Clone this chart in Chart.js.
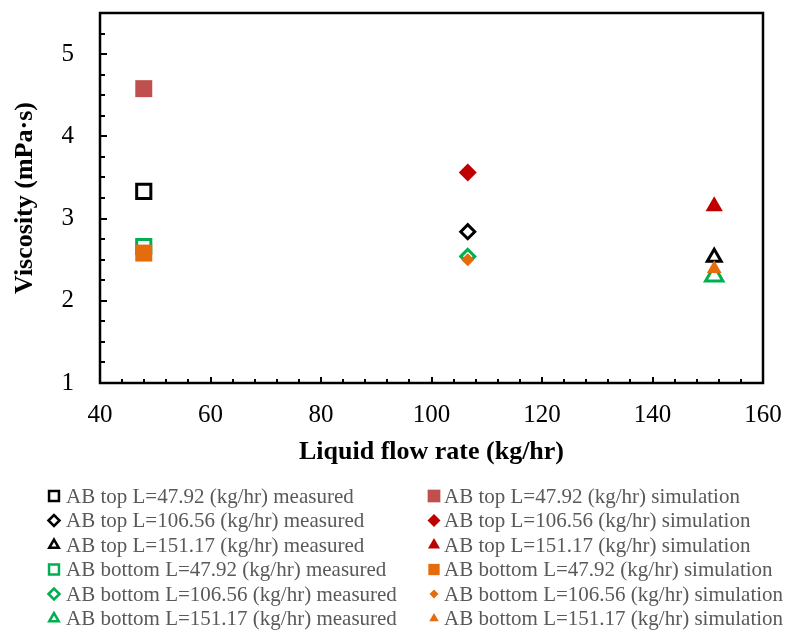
<!DOCTYPE html>
<html>
<head>
<meta charset="utf-8">
<script src="https://cdn.jsdelivr.net/npm/chart.js@4"></script>
<style>
  body { margin: 0; background: #fff; }
  #wrap { width: 786px; height: 630px; position: relative; }
</style>
</head>
<body>
<div id="wrap"><canvas id="viscChart"></canvas></div>
<script>
// flow rates (kg/hr) and viscosity readings (mPa·s)
const flowRates = [47.92, 106.56, 151.17];
const topMeasured = [3.33, 2.84, 2.53];
const topSimulation = [4.58, 3.56, 3.15];
const bottomMeasured = [2.66, 2.54, 2.30];
const bottomSimulation = [2.58, 2.50, 2.39];
const xTicks = [40, 60, 80, 100, 120, 140, 160];
const yTicks = [1, 2, 3, 4, 5];

const labelsFor = (pos, kind) => flowRates.map(f => 'AB ' + pos + ' L=' + f + ' (kg/hr) ' + kind);
const shapes = ['rect', 'rectRot', 'triangle'];

function series(labels, values, style) {
    return values.map((v, i) => ({
        label: labels[i],
        data: [{ x: flowRates[i], y: v }],
        pointStyle: shapes[i],
        pointRadius: style.radius[i],
        legendRadius: style.legendRadius[i],
        pointBorderWidth: style.hollow ? 3 : 0,
        borderWidth: style.hollow ? 3 : 0,
        borderColor: style.color[i],
        backgroundColor: style.hollow ? 'rgba(0,0,0,0)' : style.color[i],
        hollow: style.hollow,
        showLine: false,
        order: style.order
    }));
}

const datasets = [
    ...series(labelsFor('top', 'measured'), topMeasured,
        { color: ['#000', '#000', '#000'], radius: [10, 7, 8], legendRadius: [7, 5.5, 5.5], hollow: true, order: 4 }),
    ...series(labelsFor('bottom', 'measured'), bottomMeasured,
        { color: ['#00B050', '#00B050', '#00B050'], radius: [10, 7, 10], legendRadius: [7, 5.5, 5.5], hollow: true, order: 3 }),
    ...series(labelsFor('top', 'simulation'), topSimulation,
        { color: ['#C0504D', '#C00000', '#C00000'], radius: [12, 9, 10], legendRadius: [9, 6.5, 7], hollow: false, order: 2 }),
    ...series(labelsFor('bottom', 'simulation'), bottomSimulation,
        { color: ['#E46C0A', '#E46C0A', '#E46C0A'], radius: [12, 6.5, 8.5], legendRadius: [8, 4.5, 5.5], hollow: false, order: 1 })
];

// legend column order: measured top, measured bottom | simulation top, simulation bottom
const legendOrder = [0, 1, 2, 3, 4, 5, 6, 7, 8, 9, 10, 11];

const frame = {
    id: 'frame',
    afterDraw(chart) {
        const { ctx, chartArea: a, scales } = chart;
        ctx.save();
        ctx.strokeStyle = '#000';
        ctx.lineWidth = 2;
        ctx.beginPath();
        for (let v = 40; v <= 160; v += 4) {
            const px = Math.round(scales.x.getPixelForValue(v));
            const len = v % 20 === 0 ? 6 : 4;
            ctx.moveTo(px, a.bottom);
            ctx.lineTo(px, a.bottom - len);
        }
        for (let v = 1; v <= 5.5; v += 0.25) {
            const py = Math.round(scales.y.getPixelForValue(v));
            const len = Number.isInteger(v) ? 7 : 5;
            ctx.moveTo(a.left, py);
            ctx.lineTo(a.left + len, py);
        }
        ctx.stroke();
        ctx.lineWidth = 2.5;
        ctx.strokeRect(a.left, a.top, a.right - a.left, a.bottom - a.top);
        ctx.restore();
    }
};

const sideLegend = {
    id: 'sideLegend',
    afterDraw(chart) {
        const ctx = chart.ctx;
        ctx.save();
        ctx.font = '21px "Liberation Serif", "Times New Roman", serif';
        ctx.textBaseline = 'middle';
        ctx.textAlign = 'left';
        legendOrder.forEach((di, k) => {
            const ds = chart.data.datasets[di];
            const col = k < 6 ? 0 : 1;
            const row = k % 6;
            const y = 496 + row * 24.5;
            const mx = col === 0 ? 54 : 434;
            const tx = col === 0 ? 66 : 444;
            ctx.fillStyle = ds.backgroundColor;
            ctx.strokeStyle = ds.borderColor;
            ctx.lineWidth = ds.hollow ? 2.5 : 0;
            Chart.helpers.drawPoint(ctx, {
                pointStyle: ds.pointStyle,
                radius: ds.legendRadius,
                rotation: 0,
                borderWidth: ds.hollow ? 2.5 : 0
            }, mx, y);
            ctx.fillStyle = '#595959';
            ctx.fillText(ds.label, tx, y + 1);
        });
        ctx.restore();
    }
};

const noPad = s => { s.paddingTop = 0; s.paddingBottom = 0; s.paddingLeft = 0; s.paddingRight = 0; };

new Chart(document.getElementById('viscChart'), {
    type: 'scatter',
    data: { datasets },
    options: {
        responsive: true,
        maintainAspectRatio: false,
        animation: false,
        events: [],
        layout: { padding: { left: 0, right: 23, top: 12, bottom: 159 } },
        plugins: { legend: { display: false }, tooltip: { enabled: false } },
        scales: {
            x: {
                type: 'linear',
                min: 40, max: 160,
                afterFit: s => { s.height = 88; noPad(s); },
                afterBuildTicks: s => { s.ticks = xTicks.map(v => ({ value: v })); },
                grid: { display: false, drawTicks: false },
                border: { display: false },
                ticks: {
                    color: '#000', padding: 17,
                    font: { family: '"Liberation Serif", "Times New Roman", serif', size: 25 }
                },
                title: {
                    display: true,
                    text: 'Liquid flow rate (kg/hr)',
                    color: '#000',
                    padding: { top: 0, bottom: 3 },
                    font: { family: '"Liberation Serif", "Times New Roman", serif', size: 26, weight: 'bold' }
                }
            },
            y: {
                type: 'linear',
                min: 1, max: 5.5,
                afterFit: s => { s.width = 100; noPad(s); },
                afterBuildTicks: s => { s.ticks = yTicks.map(v => ({ value: v })); },
                grid: { display: false, drawTicks: false },
                border: { display: false },
                ticks: {
                    color: '#000', padding: 26,
                    font: { family: '"Liberation Serif", "Times New Roman", serif', size: 25 }
                },
                title: {
                    display: true,
                    text: 'Viscosity (mPa·s)',
                    color: '#000',
                    padding: { top: 10, bottom: 0 },
                    font: { family: '"Liberation Serif", "Times New Roman", serif', size: 26, weight: 'bold' }
                }
            }
        }
    },
    plugins: [frame, sideLegend]
});
</script>
</body>
</html>
